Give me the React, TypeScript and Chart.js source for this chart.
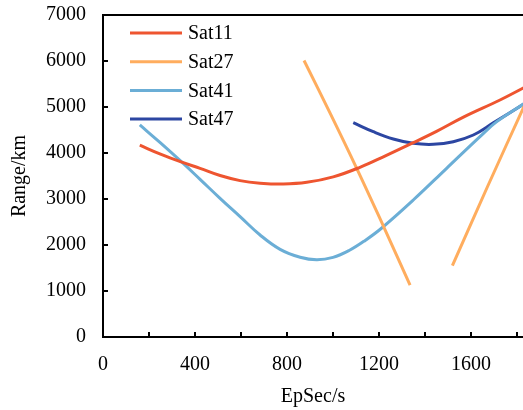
import React, { useEffect, useRef } from "react";
import { Chart, registerables } from "chart.js";

Chart.register(...registerables);

const seriesLabels = ["Sat11", "Sat27", "Sat41", "Sat47"];
const seriesColors = ["#EE5530", "#FFAD5E", "#6BAED6", "#2C46A2"];

const sat11X = [160, 250, 343, 422, 509, 596, 683, 784, 886, 1001, 1117, 1230, 1349, 1450, 1567, 1726, 1830];
const sat11Y = [4170, 3975, 3800, 3667, 3510, 3400, 3345, 3326, 3362, 3480, 3689, 3945, 4224, 4470, 4780, 5152, 5420];

const sat27X = [874, 990, 1103, 1220, 1335, 1427, 1519, 1670, 1830];
const sat27Y = [6010, 4840, 3667, 2400, 1130, null, 1550, 3250, 5010];

const sat41X = [160, 250, 343, 422, 509, 596, 683, 770, 857, 929, 1000, 1070, 1140, 1212, 1349, 1494, 1639, 1712, 1830];
const sat41Y = [4610, 4220, 3800, 3428, 3015, 2616, 2217, 1906, 1735, 1680, 1730, 1880, 2100, 2370, 2978, 3667, 4355, 4681, 5070];

const sat47X = [1088, 1175, 1262, 1349, 1436, 1523, 1610, 1697, 1830];
const sat47Y = [4659, 4463, 4304, 4210, 4189, 4246, 4391, 4655, 5065];

const xMin = 0;
const xMax = 1826;
const xMinorStep = 200;
const xMajorStep = 400;
const yMin = 0;
const yMax = 7000;
const yStep = 1000;

const FONT = "'Liberation Serif', 'Times New Roman', serif";

function toPoints(xs: number[], ys: (number | null)[]) {
  return xs.map((x, i) => ({ x, y: ys[i] }));
}

export default function App() {
  const ref = useRef<HTMLCanvasElement>(null);

  useEffect(() => {
    document.body.style.margin = "0";
    const canvas = ref.current;
    if (!canvas) return;

    const xsAll = [sat11X, sat27X, sat41X, sat47X];
    const ysAll = [sat11Y, sat27Y, sat41Y, sat47Y];

    const frame = {
      id: "frame",
      afterDraw(chart: any) {
        const { ctx, chartArea, scales } = chart;
        ctx.save();
        ctx.strokeStyle = "#000";
        ctx.lineWidth = 2;
        ctx.beginPath();
        ctx.moveTo(chartArea.left - 1, chartArea.top);
        ctx.lineTo(chartArea.right, chartArea.top);
        ctx.stroke();
        // inward ticks
        const tl = 5;
        scales.x.ticks.forEach((t: any) => {
          const px = scales.x.getPixelForValue(t.value);
          ctx.beginPath();
          ctx.moveTo(px, chartArea.bottom);
          ctx.lineTo(px, chartArea.bottom - tl);
          ctx.stroke();
        });
        scales.y.ticks.forEach((t: any) => {
          const py = scales.y.getPixelForValue(t.value);
          ctx.beginPath();
          ctx.moveTo(chartArea.left, py);
          ctx.lineTo(chartArea.left + tl, py);
          ctx.stroke();
        });
        // legend
        ctx.font = `20px ${FONT}`;
        ctx.textBaseline = "middle";
        ctx.textAlign = "left";
        chart.data.datasets.forEach((ds: any, i: number) => {
          const y = 33 + i * 28.7;
          ctx.strokeStyle = ds.borderColor;
          ctx.lineWidth = 3;
          ctx.beginPath();
          ctx.moveTo(130, y);
          ctx.lineTo(182, y);
          ctx.stroke();
          ctx.fillStyle = "#000";
          ctx.fillText(ds.label, 188, y + 1);
        });
        ctx.restore();
      },
    };

    const chart = new Chart(canvas, {
      type: "line",
      data: {
        datasets: seriesLabels.map((label, i) => ({
          label,
          data: toPoints(xsAll[i], ysAll[i] as any),
          borderColor: seriesColors[i],
          backgroundColor: seriesColors[i],
          borderWidth: 3,
          pointRadius: 0,
          tension: 0.4,
          fill: false,
          spanGaps: false,
        })),
      },
      options: {
        responsive: false,
        animation: false,
        devicePixelRatio: 1,
        layout: { padding: { top: 15, right: 0, left: 0, bottom: 0 } },
        plugins: { legend: { display: false }, tooltip: { enabled: false } },
        scales: {
          x: {
            type: "linear",
            min: xMin,
            max: xMax,
            afterBuildTicks(scale: any) {
              const ticks = [];
              for (let v = xMin; v <= xMax; v += xMinorStep) ticks.push({ value: v });
              scale.ticks = ticks;
            },
            afterFit(scale: any) {
              scale.height = 73;
              scale.paddingLeft = 0;
              scale.paddingRight = 0;
            },
            ticks: {
              autoSkip: false,
              maxRotation: 0,
              padding: 16,
              color: "#000",
              font: { family: FONT, size: 20 },
              callback: (v: any) => (v % xMajorStep === 0 ? String(v) : ""),
            },
            grid: { display: false, drawTicks: false },
            border: { display: true, color: "#000", width: 2 },
            title: {
              display: true,
              text: "EpSec/s",
              color: "#000",
              font: { family: FONT, size: 20 },
              padding: { top: 0, bottom: 1 },
            },
          },
          y: {
            type: "linear",
            min: yMin,
            max: yMax,
            ticks: {
              stepSize: yStep,
              padding: 17,
              color: "#000",
              font: { family: FONT, size: 20 },
              callback: (v: any) => String(v),
            },
            afterFit(scale: any) {
              scale.width = 103;
              scale.paddingTop = 0;
              scale.paddingBottom = 0;
            },
            grid: { display: false, drawTicks: false },
            border: { display: true, color: "#000", width: 2 },
            title: {
              display: true,
              text: "Range/km",
              color: "#000",
              font: { family: FONT, size: 20 },
              padding: { top: 8, bottom: 0 },
            },
          },
        },
      },
      plugins: [frame],
    } as any);

    return () => chart.destroy();
  }, []);

  return (
    <div style={{ width: 523, height: 410, overflow: "hidden" }}>
      <canvas ref={ref} width={523} height={410} style={{ display: "block" }} />
    </div>
  );
}
